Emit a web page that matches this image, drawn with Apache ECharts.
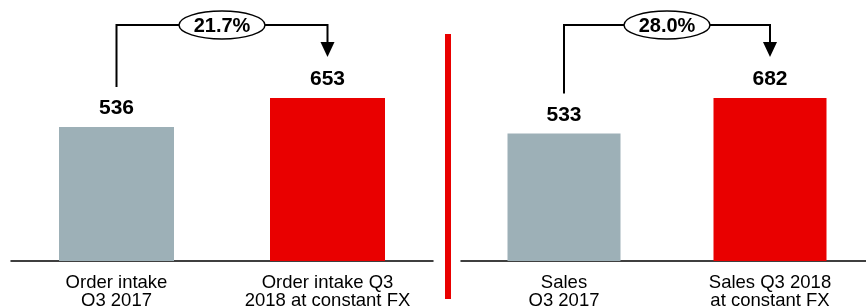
<!DOCTYPE html>
<html>
<head>
<meta charset="utf-8">
<script src="https://cdn.jsdelivr.net/npm/echarts@6/dist/echarts.min.js"></script>
<style>
html, body { margin: 0; padding: 0; background: #fff; }
#main { width: 866px; height: 306px; }
</style>
</head>
<body>
<div id="main"></div>
<script>
// data
const orderCategories = ['Order intake\nQ3 2017', 'Order intake Q3\n2018 at constant FX'];
const orderValues = [536, 653];
const salesCategories = ['Sales\nQ3 2017', 'Sales Q3 2018\nat constant FX'];
const salesValues = [533, 682];
const growthLabels = ['21.7%', '28.0%'];

const barColors = ['#9db0b7', '#e90000'];
const FONT = '"Liberation Sans", Arial, sans-serif';

const panels = [
  { cats: orderCategories, vals: orderValues },
  { cats: salesCategories, vals: salesValues }
];

const chart = echarts.init(document.getElementById('main'));

function xAxisFor(cats, i) {
  return {
    type: 'category', gridIndex: i, data: cats,
    axisLine: { lineStyle: { color: '#000', width: 1.5 } },
    axisTick: { show: false },
    axisLabel: { color: '#000', fontFamily: FONT, fontSize: 18.5, lineHeight: 18, margin: 13, interval: 0 }
  };
}
function yAxisFor(vals, i) {
  // each panel has its own scale, highest bar fills ~5/8 of the height
  return { type: 'value', gridIndex: i, min: 0, max: Math.max(...vals) * 1.6, show: false, splitLine: { show: false } };
}

chart.setOption({
  animation: false,
  grid: [
    { left: 11, width: 422, top: 0, bottom: 45, outerBoundsMode: 'none' },
    { left: 461, width: 412, top: 0, bottom: 45, outerBoundsMode: 'none' }
  ],
  xAxis: panels.map((p, i) => xAxisFor(p.cats, i)),
  yAxis: panels.map((p, i) => yAxisFor(p.vals, i)),
  series: panels.map((p, i) => ({
    type: 'bar', xAxisIndex: i, yAxisIndex: i,
    barWidth: i === 0 ? 115 : 113,
    data: p.vals.map((v, k) => ({ value: v, itemStyle: { color: barColors[k] } })),
    label: {
      show: true, position: 'top', distance: 8,
      color: '#000', fontFamily: FONT, fontSize: 21, fontWeight: 'bold'
    }
  }))
});

// connectors with growth ellipse, placed from the bar positions
const graphics = [
  { type: 'rect', shape: { x: 445, y: 34, width: 6, height: 265 }, style: { fill: barColors[1] } }
];
const topY = 25;
panels.forEach((p, i) => {
  const a = chart.convertToPixel({ xAxisIndex: i, yAxisIndex: i }, [0, p.vals[0]]);
  const b = chart.convertToPixel({ xAxisIndex: i, yAxisIndex: i }, [1, p.vals[1]]);
  const tip = b[1] - 41;
  const cx = (a[0] + b[0]) / 2;
  graphics.push(
    { type: 'polyline', z: 10,
      shape: { points: [[a[0], a[1] - 40], [a[0], topY], [b[0], topY], [b[0], tip - 14]] },
      style: { stroke: '#000', lineWidth: 2, fill: null } },
    { type: 'polygon', z: 10,
      shape: { points: [[b[0] - 7, tip - 15], [b[0] + 7, tip - 15], [b[0], tip]] },
      style: { fill: '#000' } },
    { type: 'ellipse', z: 11,
      shape: { cx: cx, cy: topY, rx: 43, ry: 14 },
      style: { fill: '#fff', stroke: '#000', lineWidth: 1.5 } },
    { type: 'text', z: 12,
      style: { text: growthLabels[i], x: cx, y: topY + 1, align: 'center', verticalAlign: 'middle',
        fill: '#000', font: 'bold 20px ' + FONT } }
  );
});
chart.setOption({ graphic: graphics });
</script>
</body>
</html>
